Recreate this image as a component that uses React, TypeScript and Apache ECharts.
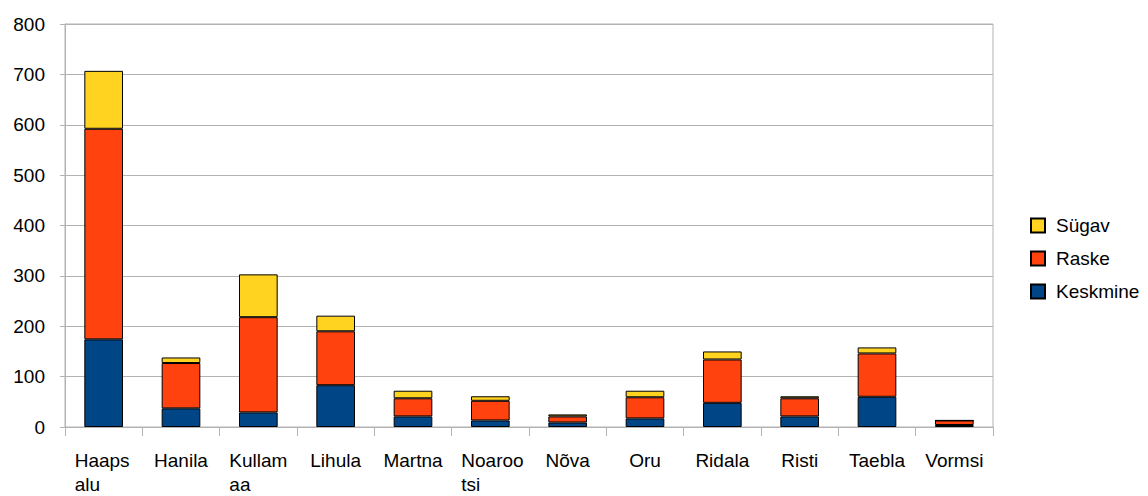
import React, { useEffect, useRef } from "react";
import * as echarts from "echarts";

const categories = ["Haapsalu", "Hanila", "Kullamaa", "Lihula", "Martna", "Noarootsi", "Nõva", "Oru", "Ridala", "Risti", "Taebla", "Vormsi"];
const tickLabels = ["Haaps\nalu", "Hanila", "Kullam\naa", "Lihula", "Martna", "Noaroo\ntsi", "Nõva", "Oru", "Ridala", "Risti", "Taebla", "Vormsi"];
const keskmine = [174, 37, 29, 83, 21, 13, 9, 17, 48, 21, 60, 4];
const raske = [418, 90, 189, 107, 36, 39, 12, 42, 86, 36, 86, 9];
const sugav = [115, 11, 85, 31, 15, 9, 4, 13, 16, 4, 12, 0];

const FONT = "'Liberation Sans', Arial, sans-serif";

export default function App() {
  const ref = useRef<HTMLDivElement>(null);
  useEffect(() => {
    document.body.style.margin = "0";
    const chart = echarts.init(ref.current!, null, { renderer: "svg" });
    const mk = (name: string, data: number[], color: string) => ({
      name,
      type: "bar",
      stack: "total",
      data,
      barWidth: "50%",
      itemStyle: { color, borderColor: "#000", borderWidth: 1 },
    });
    chart.setOption({
      animation: false,
      backgroundColor: "#fff",
      textStyle: { fontFamily: FONT },
      grid: {
        left: 65,
        right: 155,
        top: 24,
        bottom: 68,
        show: true,
        borderColor: "#b3b3b3",
        borderWidth: 1,
      },
      legend: {
        orient: "vertical",
        left: 1025,
        top: 211,
        itemWidth: 14,
        itemHeight: 14,
        itemGap: 14,
        data: ["Sügav", "Raske", "Keskmine"],
        textStyle: { fontSize: 19, color: "#000", fontFamily: FONT, padding: [0, 0, 0, 6] },
        icon: "rect",
      },
      xAxis: {
        type: "category",
        data: categories,
        axisLine: { lineStyle: { color: "#b3b3b3" } },
        axisTick: { show: true, length: 9, interval: 0, lineStyle: { color: "#b3b3b3" } },
        axisLabel: {
          interval: 0,
          margin: 21,
          fontSize: 19,
          lineHeight: 24,
          color: "#000",
          fontFamily: FONT,
          formatter: (_v: string, i: number) => {
            const t = tickLabels[i];
            if (t.indexOf("\n") < 0) return t;
            return t.split("\n").map((s) => "{w|" + s + "}").join("\n");
          },
          rich: {
            w: { width: 58, align: "left", fontSize: 19, lineHeight: 24, color: "#000", fontFamily: FONT },
          },
        },
      },
      yAxis: {
        type: "value",
        min: 0,
        max: 800,
        interval: 100,
        axisLine: { show: true, lineStyle: { color: "#b3b3b3" } },
        axisTick: { show: true, length: 5, lineStyle: { color: "#b3b3b3" } },
        splitLine: { lineStyle: { color: "#b3b3b3" } },
        axisLabel: { fontSize: 19, color: "#000", margin: 20, fontFamily: FONT },
      },
      series: [
        mk("Keskmine", keskmine, "#004586"),
        mk("Raske", raske, "#ff420e"),
        mk("Sügav", sugav, "#ffd320"),
      ],
    });
    return () => chart.dispose();
  }, []);
  return <div ref={ref} style={{ width: 1148, height: 496 }} />;
}
